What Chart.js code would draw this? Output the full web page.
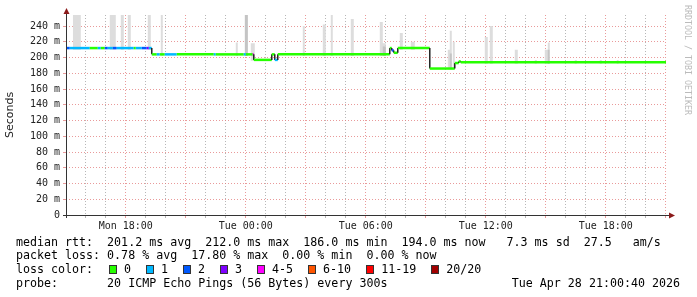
<!DOCTYPE html>
<html>
<head>
<meta charset="utf-8">
<script src="https://cdn.jsdelivr.net/npm/chart.js@4.4.1/dist/chart.umd.min.js"></script>
<style>
    html, body { margin: 0; padding: 0; background: #fff; }
    #wrap { position: relative; width: 697px; height: 297px; overflow: hidden; }
    #chart { position: absolute; left: 0; top: 0; }
    .txt {
        position: absolute;
        font-family: 'DejaVu Sans Mono', monospace;
        font-size: 11.65px;
        line-height: 14px;
        white-space: pre;
        color: #000;
    }
    #lossRow { display: flex; align-items: center; }
    #lossRow .box { width: 6px; height: 7px; border: 1px solid #333; margin-right: 7px; }
    #lossRow .lbl { margin-right: 15px; }
    #credit {
        position: absolute;
        left: 683px;
        top: 5px;
        writing-mode: vertical-rl;
        font-family: 'DejaVu Sans Mono', monospace;
        font-size: 8.3px;
        line-height: 10px;
        color: #bbb;
        white-space: pre;
    }
</style>
</head>
<body>
<div id="wrap">
    <canvas id="chart" width="697" height="297"></canvas>
    <div class="txt" style="left:16px; top:235px;">median rtt:  201.2 ms avg  212.0 ms max  186.0 ms min  194.0 ms now   7.3 ms sd  27.5   am/s</div>
    <div class="txt" style="left:16px; top:248px;">packet loss: 0.78 % avg  17.80 % max  0.00 % min  0.00 % now</div>
    <div class="txt" style="left:16px; top:262px;">loss color:</div>
    <div class="txt" id="lossRow" style="left:109px; top:262px;"></div>
    <div class="txt" style="left:16px; top:276px;">probe:       20 ICMP Echo Pings (56 Bytes) every 300s</div>
    <div class="txt" style="right:17px; top:276px;">Tue Apr 28 21:00:40 2026</div>
    <div id="credit">RRDTOOL / TOBI OETIKER</div>
</div>
<script>
// Zeit in Stunden ab Mon 00:00
const axisStart = 15 + 40 / 3600;
const axisEnd = 45 + 40 / 3600;

// Median-Läufe: Beginn, Wert (ms), Verlust-Klasse
const runStart = [15.0, 15.2, 16.2, 16.6, 16.75, 16.95, 17.1, 17.35, 17.55, 18.4, 18.5, 18.8, 19.05, 19.15,
    19.3, 19.55, 19.7, 19.95, 20.55, 22.4, 22.5, 23.9, 24.0, 24.35,
    24.4, 25.3, 25.45, 25.6, 31.2, 31.3, 31.4, 31.6, 33.2, 34.45, 34.65, 34.75];
const runMedian = [212, 212, 212, 212, 212, 212, 212, 212, 212, 212, 212, 212, 212, 212,
    204, 204, 204, 204, 204, 204, 204, 204, 204, 204,
    197, 204, 197, 204, 212, 209, 206, 212, 186, 193, 195, 194];
const runLoss = [2, 1, 0, 1, 0, 2, 1, 2, 1, 0, 1, 2, 3, 1,
    0, 1, 0, 1, 0, 1, 0, 1, 0, 4,
    0, 0, 1, 0, 0, 2, 0, 0, 0, 0, 0, 0];

// Rauch (Streuung der Pings)
const smokeStart = [15.35, 17.2, 17.75, 18.1, 19.1, 19.75, 23.5, 23.95, 24.25, 26.85, 27.85, 28.25, 29.25,
    30.7, 30.85, 31.7, 32.25, 34.1, 34.2, 34.35, 35.95, 36.2, 37.45, 38.45, 38.95, 39.1, 40.45, 41.7, 42.55];
const smokeEnd = [15.75, 17.5, 17.9, 18.25, 19.25, 19.85, 23.6, 24.1, 24.45, 26.95, 28.0, 28.35, 29.4,
    30.85, 31.0, 31.85, 32.45, 34.2, 34.3, 34.45, 36.1, 36.35, 37.6, 38.55, 39.1, 39.2, 40.55, 41.8, 42.65];
const smokeLow = [210, 210, 210, 210, 210, 202, 202, 202, 196, 202, 202, 202, 202,
    202, 202, 210, 210, 185, 185, 185, 192, 192, 192, 192, 192, 192, 192, 192, 192];
const smokeHigh = [260, 260, 260, 260, 260, 260, 219, 260, 218, 240, 242, 260, 249,
    245, 218, 231, 220, 210, 234, 220, 226, 240, 210, 197, 210, 219, 197, 197, 197];

const denseStart = [23.95, 30.85, 34.2, 39.1];
const denseEnd = [24.1, 31.0, 34.3, 39.2];
const denseLow = [202, 202, 185, 192];
const denseHigh = [260, 214, 205, 210];

const lossLabels = ['0', '1', '2', '3', '4-5', '6-10', '11-19', '20/20'];
const lossColors = ['#26ff00', '#00b8ff', '#0059ff', '#7e00ff', '#ff00ff', '#ff5500', '#ff0000', '#a10000'];

const timeLabelHours = [18, 24, 30, 36, 42];
const timeLabels = ['Mon 18:00', 'Tue 00:00', 'Tue 06:00', 'Tue 12:00', 'Tue 18:00'];

// Legende Verlustfarben
const lossRow = document.getElementById('lossRow');
lossRow.innerHTML = lossLabels.map((l, i) => `
    <span class="box" style="background:${lossColors[i]}"></span><span class="lbl">${l}</span>
`).join('');

function buildMedian() {
    const pts = [];
    runStart.forEach((t, i) => {
        const tEnd = i < runStart.length - 1 ? runStart[i + 1] : axisEnd;
        pts.push({ x: t, y: runMedian[i] }, { x: tEnd, y: runMedian[i] });
    });
    return pts;
}

function buildBand(starts, ends, lows, highs) {
    const hi = [], lo = [];
    starts.forEach((s, i) => {
        hi.push({ x: s, y: highs[i] });
        lo.push({ x: s, y: lows[i] });
        if (i === starts.length - 1 || starts[i + 1] !== ends[i]) {
            hi.push({ x: ends[i], y: lows[i] });
            lo.push({ x: ends[i], y: lows[i] });
        }
    });
    return { hi, lo };
}

const smoke = buildBand(smokeStart, smokeEnd, smokeLow, smokeHigh);
const dense = buildBand(denseStart, denseEnd, denseLow, denseHigh);

const MAJOR = 'rgba(225,120,120,0.75)';
const MINOR = 'rgba(165,165,165,0.8)';

const axisArrows = {
    id: 'axisArrows',
    afterDraw(chart) {
        const { ctx, chartArea: a } = chart;
        ctx.save();
        ctx.strokeStyle = '#333';
        ctx.lineWidth = 1;
        ctx.beginPath();
        ctx.moveTo(a.left + 0.5, a.bottom + 3);
        ctx.lineTo(a.left + 0.5, 13);
        ctx.moveTo(a.left - 3, a.bottom + 0.5);
        ctx.lineTo(669, a.bottom + 0.5);
        ctx.stroke();
        ctx.fillStyle = '#8b1a1a';
        ctx.beginPath();
        ctx.moveTo(a.left + 0.5, 8);
        ctx.lineTo(a.left - 2.5, 14);
        ctx.lineTo(a.left + 3.5, 14);
        ctx.closePath();
        ctx.fill();
        ctx.beginPath();
        ctx.moveTo(675, a.bottom + 0.5);
        ctx.lineTo(669, a.bottom - 2.5);
        ctx.lineTo(669, a.bottom + 3.5);
        ctx.closePath();
        ctx.fill();
        ctx.restore();
    }
};

new Chart(document.getElementById('chart'), {
    type: 'line',
    data: {
        datasets: [
            {
                label: 'median',
                data: buildMedian(),
                borderWidth: 2.5,
                pointRadius: 0,
                borderCapStyle: 'butt',
                segment: {
                    borderColor: ctx => ctx.p0DataIndex % 2 === 0
                        ? lossColors[runLoss[ctx.p0DataIndex / 2]]
                        : '#222',
                    borderWidth: ctx => ctx.p0DataIndex % 2 === 0 ? 2.5 : 1.5
                }
            },
            { data: dense.hi, stepped: 'before', borderWidth: 0, pointRadius: 0, fill: '+1', backgroundColor: '#c4c4c4' },
            { data: dense.lo, stepped: 'before', borderWidth: 0, pointRadius: 0, fill: false },
            { data: smoke.hi, stepped: 'before', borderWidth: 0, pointRadius: 0, fill: '+1', backgroundColor: '#dddddd' },
            { data: smoke.lo, stepped: 'before', borderWidth: 0, pointRadius: 0, fill: false }
        ]
    },
    options: {
        responsive: false,
        animation: false,
        layout: { padding: { left: 0, right: 31, top: 15, bottom: 0 } },
        plugins: { legend: { display: false }, tooltip: { enabled: false } },
        scales: {
            x: {
                type: 'linear',
                min: axisStart,
                max: axisEnd,
                afterFit: scale => { scale.height = 82; },
                afterBuildTicks: scale => {
                    const ticks = [];
                    for (let h = 16; h <= 45; h++) ticks.push({ value: h });
                    scale.ticks = ticks;
                },
                ticks: {
                    autoSkip: false,
                    maxRotation: 0,
                    padding: 2,
                    color: '#222',
                    font: { family: 'DejaVu Sans Mono', size: 10 },
                    callback: v => {
                        const i = timeLabelHours.indexOf(v);
                        return i >= 0 ? timeLabels[i] : '';
                    }
                },
                grid: {
                    color: c => (c.tick && c.tick.value % 3 === 0) ? MAJOR : MINOR,
                    tickLength: 3,
                    lineWidth: 1
                },
                border: { display: false, dash: [1, 2] }
            },
            y: {
                min: 0,
                max: 254,
                afterFit: scale => { scale.width = 66; },
                afterBuildTicks: scale => {
                    const ticks = [];
                    for (let v = 0; v <= 250; v += 10) ticks.push({ value: v });
                    scale.ticks = ticks;
                },
                ticks: {
                    padding: 3,
                    color: '#222',
                    font: { family: 'DejaVu Sans Mono', size: 10 },
                    callback: v => v % 20 !== 0 ? '' : (v === 0 ? '0' : v + ' m')
                },
                grid: {
                    color: c => (c.tick && c.tick.value % 20 === 0) ? MAJOR : MINOR,
                    tickLength: 3,
                    lineWidth: 1
                },
                border: { display: false, dash: [1, 2] },
                title: {
                    display: true,
                    text: 'Seconds',
                    color: '#222',
                    font: { family: 'DejaVu Sans', size: 11 }
                }
            }
        }
    },
    plugins: [axisArrows]
});
</script>
</body>
</html>
